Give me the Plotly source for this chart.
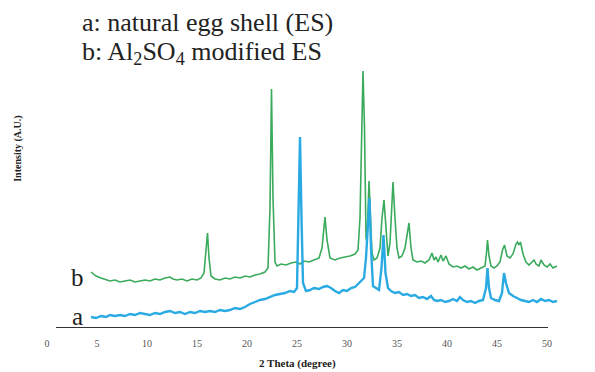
import plotly.graph_objects as go

# 2 Theta (degree) and intensity (a.u.) for curve b (Al2SO4 modified ES)
theta_b = [4.4, 4.9, 5.4, 5.9, 6.3, 6.8, 7.3, 7.8, 8.3, 8.8, 9.3, 9.8, 10.3, 10.8, 11.3, 11.8,
           12.3, 12.6, 13.0, 13.5, 14.0, 14.5, 15.0, 15.4, 15.7, 15.9, 16.05, 16.2, 16.4, 16.8,
           17.3, 17.8, 18.3, 18.8, 19.3, 19.8, 20.3, 20.8, 21.3, 21.8, 22.1, 22.3, 22.45, 22.6,
           22.8, 23.0, 23.4, 23.9, 24.4, 24.9, 25.3, 25.7, 26.2, 26.7, 27.2, 27.5, 27.7, 27.8,
           28.0, 28.3, 28.8, 29.3, 29.8, 30.3, 30.8, 31.1, 31.3, 31.45, 31.6, 31.75, 31.9, 32.0,
           32.1, 32.2, 32.35, 32.5, 32.7, 33.0, 33.3, 33.5, 33.7, 33.9, 34.1, 34.3, 34.45, 34.6,
           34.8, 35.0, 35.2, 35.5, 35.8, 36.0, 36.2, 36.4, 36.6, 37.0, 37.4, 37.8, 38.2, 38.5,
           38.7, 38.9, 39.1, 39.4, 39.6, 39.9, 40.2, 40.6, 41.0, 41.4, 41.8, 42.2, 42.6, 43.0,
           43.4, 43.8, 43.95, 44.05, 44.2, 44.4, 44.7, 45.0, 45.3, 45.55, 45.75, 46.0, 46.3, 46.6,
           46.9, 47.05, 47.2, 47.35, 47.6, 47.9, 48.2, 48.5, 48.7, 48.9, 49.2, 49.4, 49.7, 50.0,
           50.3, 50.6, 51.0]
intensity_b = [56, 52, 50, 48, 47, 48, 46, 47, 48, 46, 47, 48, 47, 49, 48, 50,
               51, 49, 48, 49, 47, 49, 48, 50, 55, 75, 95, 70, 52, 49,
               48, 50, 49, 51, 50, 52, 51, 53, 54, 56, 60, 120, 239, 130,
               66, 62, 64, 63, 65, 66, 64, 67, 66, 68, 70, 80, 105, 111,
               88, 70, 68, 70, 71, 72, 74, 78, 110, 200, 257, 200, 90, 86,
               120, 147, 110, 75, 68, 70, 80, 110, 128, 95, 72, 85, 120, 146,
               110, 80, 70, 72, 80, 95, 105, 80, 68, 66, 67, 65, 68, 75,
               68, 71, 66, 73, 67, 72, 64, 61, 62, 60, 62, 59, 61, 58,
               60, 62, 75, 88, 72, 62, 60, 62, 66, 78, 83, 72, 70, 74,
               84, 86, 83, 86, 74, 66, 63, 66, 68, 64, 62, 68, 63, 61,
               64, 60, 62]

# Curve a (natural egg shell)
theta_a = [4.4, 4.9, 5.4, 5.9, 6.3, 6.8, 7.3, 7.8, 8.3, 8.8, 9.3, 9.8, 10.3, 10.8, 11.3, 11.8,
           12.3, 12.8, 13.3, 13.8, 14.3, 14.8, 15.3, 15.8, 16.3, 16.8, 17.3, 17.8, 18.3, 18.8,
           19.3, 19.8, 20.3, 20.8, 21.3, 21.8, 22.3, 22.8, 23.3, 23.8, 24.3, 24.7, 25.0, 25.15,
           25.3, 25.45, 25.6, 25.9, 26.3, 26.7, 27.2, 27.6, 28.0, 28.4, 28.8, 29.2, 29.6, 30.0,
           30.4, 30.8, 31.1, 31.4, 31.7, 31.9, 32.1, 32.25, 32.4, 32.6, 32.9, 33.2, 33.45, 33.65,
           33.85, 34.1, 34.4, 34.8, 35.2, 35.6, 36.0, 36.4, 36.8, 37.2, 37.6, 38.0, 38.4, 38.7,
           39.0, 39.4, 39.8, 40.2, 40.6, 41.0, 41.3, 41.6, 42.0, 42.4, 42.8, 43.2, 43.6, 43.9,
           44.05, 44.2, 44.4, 44.8, 45.2, 45.5, 45.7, 45.9, 46.2, 46.6, 47.0, 47.4, 47.8, 48.2,
           48.6, 49.0, 49.4, 49.8, 50.2, 50.6, 51.0]
intensity_a = [11, 10, 12, 11, 13, 12, 13, 12, 14, 13, 15, 14, 13, 15, 14, 16,
               17, 15, 16, 14, 16, 15, 17, 16, 17, 16, 18, 17, 18, 20,
               19, 21, 24, 26, 28, 29, 31, 33, 34, 35, 37, 36, 40, 120,
               191, 110, 45, 37, 38, 40, 39, 41, 42, 40, 37, 35, 38, 37,
               40, 41, 44, 47, 50, 70, 110, 130, 80, 42, 40, 38, 60, 93,
               55, 40, 37, 35, 36, 33, 34, 32, 33, 30, 31, 29, 32, 28,
               27, 28, 26, 27, 29, 27, 31, 28, 26, 27, 25, 27, 28, 40,
               60, 40, 30, 28, 27, 35, 55, 45, 35, 32, 30, 28, 27, 26,
               28, 26, 29, 27, 28, 26, 27]

tick_vals = [0, 5, 10, 15, 20, 25, 30, 35, 40, 45, 50]
tick_text = [str(v) for v in tick_vals]

serif = "Liberation Serif"

fig = go.Figure()
fig.add_trace(go.Scatter(x=theta_b, y=intensity_b, mode="lines",
                         line=dict(color="#3aaa5c", width=1.6), hoverinfo="skip"))
fig.add_trace(go.Scatter(x=theta_a, y=intensity_a, mode="lines",
                         line=dict(color="#2aaae2", width=2.4), hoverinfo="skip"))

fig.update_layout(
    width=595, height=372,
    margin=dict(l=47, r=28, t=28, b=44),
    paper_bgcolor="white", plot_bgcolor="white",
    showlegend=False,
    font=dict(family=serif),
    xaxis=dict(range=[0, 52], tickvals=tick_vals, ticktext=tick_text,
               showgrid=False, zeroline=False, showline=False,
               ticks="outside", ticklen=6, tickcolor="rgba(0,0,0,0)",
               tickfont=dict(family=serif, size=10, color="#555")),
    yaxis=dict(range=[0, 300], visible=False),
)

# bottom axis line
fig.add_shape(type="line", xref="x", yref="y", x0=0.9, x1=50.1, y0=0, y1=0,
              line=dict(color="#333", width=2))

fig.add_annotation(text="<b>2 Theta (degree)</b>", xref="x", yref="paper",
                   x=25, y=-0.117, xanchor="center", yanchor="middle", showarrow=False,
                   font=dict(family=serif, size=11, color="#222"))
fig.add_annotation(text="<b>Intensity (A.U.)</b>", xref="paper", yref="paper",
                   x=-0.056, y=0.597, xanchor="center", yanchor="middle",
                   textangle=-90, showarrow=False,
                   font=dict(family=serif, size=10, color="#222"))
fig.add_annotation(text="a: natural egg shell (ES)", xref="paper", yref="paper",
                   x=0.0635, y=1.0167, xanchor="left", yanchor="middle", showarrow=False,
                   font=dict(family=serif, size=26, color="#222"))
fig.add_annotation(text="b: Al<sub>2</sub>SO<sub>4</sub> modified ES", xref="paper", yref="paper",
                   x=0.0635, y=0.9167, xanchor="left", yanchor="middle", showarrow=False,
                   font=dict(family=serif, size=26, color="#222"))
fig.add_annotation(text="b", xref="x", yref="y", x=3.0, y=51, showarrow=False,
                   font=dict(family=serif, size=25, color="#222"))
fig.add_annotation(text="a", xref="x", yref="y", x=3.0, y=12, showarrow=False,
                   font=dict(family=serif, size=25, color="#222"))

fig.write_html("out.html")
